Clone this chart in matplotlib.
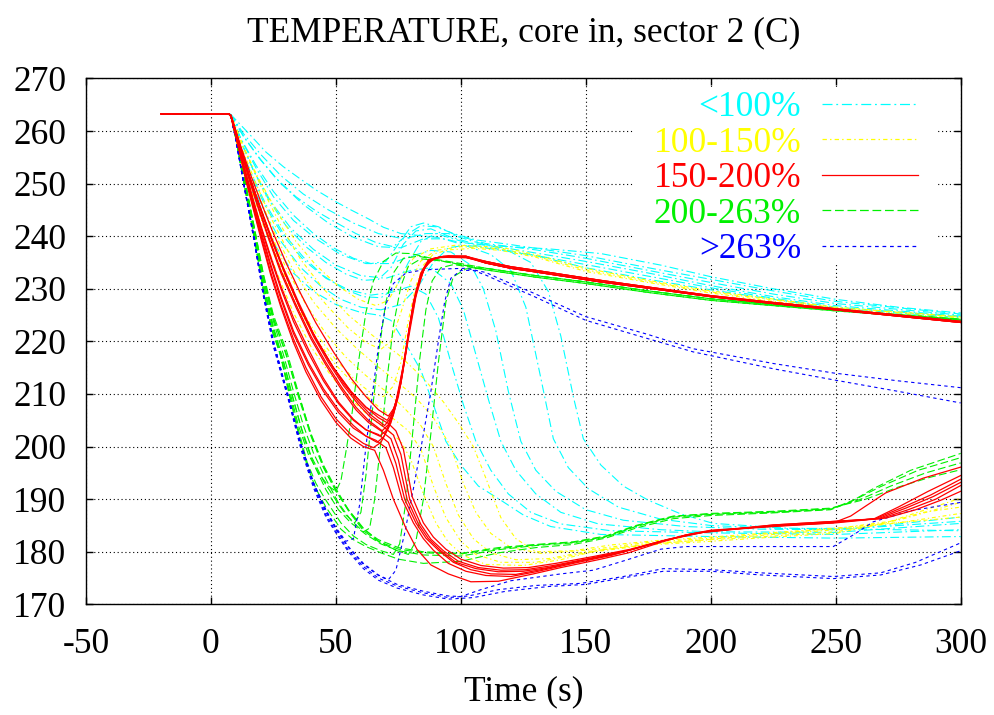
import matplotlib
matplotlib.use("Agg")
import matplotlib.pyplot as plt
from matplotlib.lines import Line2D
from matplotlib.patches import Rectangle

# steady state before the transient, shared by every run
FLAT = [(-20, 263.3), (7, 263.3)]

# <100% : slow cooldown, bump near 85 s, stay high
CYAN_TOP = [
    [(8, 263.1), (15, 259.6), (22, 256), (29, 253.2), (36, 250.8), (42, 248.8), (49, 246.8), (56, 245.0), (63, 243.3), (69, 241.7), (76, 240.5), (82, 240.2), (90, 239.8), (100, 238.8), (116, 238.1), (135, 237.6), (156, 236.7), (180, 234.5), (200, 232.3), (225, 230), (250, 228), (275, 226.5), (300, 225.4)],
    [(8, 263), (13, 259), (19, 255), (26, 251), (34, 247.5), (42, 244.8), (50, 242.6), (58, 240.5), (66, 238.8), (73, 238), (79, 240.5), (84, 242), (90, 241.8), (97, 240.5), (106, 239.3), (120, 238.4), (150, 236.3), (175, 234), (200, 231.8), (225, 229.6), (250, 227.6), (300, 225.2)],
    [(8, 263), (12, 258.5), (18, 253.5), (25, 248.5), (33, 244), (41, 240.5), (49, 237.8), (57, 235.8), (64, 234.8), (70, 235.2), (75, 238.5), (80, 241.8), (85, 242.5), (91, 241.8), (98, 240.2), (110, 238.6), (130, 237.4), (150, 235.8), (175, 233.5), (200, 231.2), (225, 229), (250, 227.2), (300, 225)],
    [(8, 263), (12, 258), (17, 252.5), (23, 247), (30, 242), (38, 238), (46, 235), (54, 232.8), (61, 231.6), (67, 231.8), (72, 234), (77, 238.5), (82, 241), (88, 241.4), (95, 240), (105, 238.6), (120, 237.6), (150, 235.2), (175, 233), (200, 230.6), (225, 228.5), (250, 226.8), (300, 224.8)],
    [(8, 263), (11, 258), (16, 252), (22, 246), (29, 240.5), (37, 236), (45, 232.5), (53, 230), (61, 228.5), (68, 228.3), (74, 230.2), (79, 235), (84, 239), (90, 240.5), (97, 239.5), (106, 238.2), (120, 237.2), (150, 234.6), (175, 232.4), (200, 230.2), (225, 228.2), (250, 226.5), (300, 224.7)],
    [(8, 263), (11, 257.5), (15, 251.5), (21, 245), (28, 239), (36, 234), (44, 230.5), (52, 228), (60, 226.5), (68, 226), (76, 227), (83, 230.5), (89, 235), (95, 237.8), (102, 238.3), (115, 237.4), (130, 236.3), (150, 234), (175, 231.8), (200, 229.8), (225, 228), (250, 226.3), (300, 224.5)],
]

# <100% : runs that collapse to the low branch
CYAN_LOW = [
    [(8, 263), (11, 257), (15, 250.5), (20, 244), (26, 238), (33, 233), (41, 229.5), (50, 227), (60, 225.5), (67, 225), (72, 224), (78, 219.5), (84, 214.5), (89, 208), (94, 201), (100, 196.5), (107, 192.5), (116, 189.8), (125, 187), (136, 184.8), (156, 183.3), (200, 182.9), (250, 182.6), (300, 182.9)],
    [(8, 263), (11, 257.5), (16, 251.5), (22, 245.5), (29, 240), (37, 235.5), (46, 232), (55, 229.8), (64, 228.8), (72, 229.3), (80, 230.5), (86, 229), (91, 224.5), (96, 216), (101, 208), (106, 201), (112, 195.5), (119, 191), (128, 187.5), (140, 185.3), (160, 184), (200, 183.6), (250, 183.3), (300, 184.2)],
    [(8, 263), (12, 258), (17, 252.5), (24, 246.5), (32, 241.5), (41, 237.5), (50, 234.5), (60, 232.5), (70, 232), (80, 233.5), (88, 234), (96, 231), (101, 226), (106, 217.5), (111, 209), (116, 201), (122, 195.5), (130, 191), (140, 187.5), (155, 185.3), (180, 184.2), (200, 183.8), (250, 183.7), (300, 185.4)],
    [(8, 263), (12, 258.5), (18, 253), (25, 247.5), (33, 243), (42, 239.5), (52, 236.5), (62, 234.8), (72, 234.8), (80, 236.2), (88, 237.3), (96, 237), (104, 234.5), (109, 230), (114, 222), (119, 210.5), (124, 201), (130, 195.5), (138, 191.5), (150, 188), (165, 186), (190, 184.8), (220, 184.3), (250, 184.2), (300, 185.8)],
    [(8, 263.1), (13, 259), (20, 254.5), (28, 250), (37, 246), (47, 242.5), (57, 239.8), (67, 238), (76, 237.8), (85, 239.5), (93, 239.5), (102, 238.2), (112, 236.5), (120, 233.5), (126, 226.5), (132, 213), (137, 201.5), (143, 196), (151, 192), (163, 188.5), (180, 186.2), (200, 185), (230, 184.4), (260, 184.5), (300, 186.6)],
    [(8, 263.1), (13, 259.5), (20, 255.5), (28, 251.5), (37, 248), (47, 245), (57, 242.5), (67, 240.5), (77, 239.5), (86, 240.5), (95, 240.5), (105, 239), (118, 237.5), (128, 235), (135, 229.5), (140, 221), (145, 209.5), (149, 201.5), (156, 196.5), (165, 192.5), (175, 189.8), (188, 187.2), (201, 185.4), (230, 184.5), (260, 184.3), (300, 184)],
]

# 100-150%
YELLOW = [
    [(8, 262.9), (12, 255.5), (17, 248), (22, 241.5), (28, 234), (35, 227), (42, 221.5), (50, 216.5), (58, 212.5), (64, 210.2), (69, 209.5), (73, 211.5), (76, 216), (79, 224), (82, 230.5), (85, 234.5), (89, 236.6), (95, 237.4), (105, 237.7), (116, 237.3), (130, 236), (150, 233.3), (175, 231.2), (200, 229.2), (225, 227.6), (250, 226.2), (275, 225.2), (300, 224.4)],
    [(8, 263), (13, 256), (18, 250), (24, 243.5), (31, 237), (39, 231), (47, 226.5), (55, 222.5), (62, 219.8), (68, 218.5), (72, 220), (76, 225.5), (80, 231.5), (84, 235.3), (90, 237.3), (100, 238), (116, 237.6), (130, 236.2), (150, 233.6), (175, 231.4), (200, 229.4), (250, 226.4), (300, 224.6)],
    [(8, 263), (13, 257), (19, 251), (26, 245), (34, 239), (42, 234.5), (51, 230.5), (59, 228), (66, 226.8), (71, 227.8), (76, 232), (81, 235.8), (88, 237.6), (98, 238.3), (116, 237.9), (130, 236.5), (150, 233.9), (175, 231.6), (200, 229.6), (250, 226.5), (300, 224.7)],
    [(8, 262.9), (11, 256), (15, 249), (20, 241.5), (26, 233.5), (33, 225.5), (40, 219), (48, 213.5), (56, 209), (64, 205.5), (71, 203), (76, 201), (80, 197.5), (85, 191), (90, 185.5), (95, 181.8), (101, 179.3), (110, 177.6), (125, 177.4), (140, 178.5), (155, 180.3), (175, 181.5), (200, 182.3), (225, 183), (250, 183.8), (270, 185.5), (285, 187.5), (300, 188.5)],
    [(8, 262.9), (12, 255.5), (16, 249), (21, 242), (27, 234.5), (34, 227), (42, 220.5), (50, 215.5), (58, 211.5), (66, 208), (73, 205.3), (79, 203), (84, 199.5), (89, 192.5), (94, 186.5), (100, 182), (106, 179.5), (116, 178), (130, 178), (150, 179.8), (175, 181.3), (200, 182), (225, 182.8), (250, 183.5), (270, 185.5), (300, 190.2)],
    [(8, 263), (12, 256), (17, 249), (23, 241.5), (30, 234), (38, 227), (46, 221.5), (54, 217), (62, 213.5), (70, 210.5), (77, 207.5), (84, 204), (89, 200), (94, 193), (99, 187), (105, 182.5), (112, 179.8), (122, 178.5), (135, 178.7), (150, 180), (175, 181.4), (200, 182.4), (250, 184.2), (275, 185.5), (300, 187.3)],
    [(8, 263), (12, 256.5), (18, 249), (25, 241), (33, 233.5), (41, 227.5), (50, 222.5), (58, 218.8), (66, 215.5), (74, 212.5), (82, 209.3), (89, 205.5), (96, 200), (101, 193), (106, 187.5), (112, 183.5), (120, 180.8), (132, 179.7), (150, 180.3), (175, 181.8), (200, 182.6), (250, 184.4), (275, 186), (300, 189.4)],
    [(8, 263), (13, 257), (20, 249.5), (28, 242), (36, 235.5), (45, 230), (55, 225), (65, 221), (75, 217.5), (85, 213), (93, 208.5), (99, 204.5), (105, 200), (110, 194), (116, 186.5), (122, 182.5), (130, 180), (145, 180.2), (160, 181.3), (180, 182.2), (200, 182.8), (250, 184.5), (300, 186.6)],
]

# 150-200% : runs that recover (V near 200-205 C), common late tail
RED_TOP_HEADS = [
    [(8, 262.8), (11, 257), (14, 251), (17, 245.5), (20, 240), (24, 233), (28, 227), (33, 220.5), (38, 215), (44, 209.5), (50, 205.3), (56, 202.3), (61, 200.6), (65, 199.8), (68, 200.8), (71, 203.5), (74, 207.8), (77.5, 216.5), (81, 227.5), (84, 233), (87, 235.5), (92, 236.1), (102, 236)],
    [(8, 262.8), (11, 257.3), (14, 251.5), (17, 246), (20, 241), (24, 234.5), (28, 228.5), (33, 222), (39, 216), (45, 211), (51, 207), (57, 204), (62, 202), (66.5, 200.8), (69, 201.8), (72, 204.5), (75, 209.5), (78, 218), (81, 227.3), (84, 232.8), (87, 235.4), (92, 236), (102, 235.9)],
    [(8, 262.8), (11, 257.5), (14, 252), (17, 246.8), (20, 242), (24, 236), (28, 230.5), (33, 224.5), (39, 218.5), (45, 213), (51, 208.5), (57, 205.2), (62, 203.2), (67.5, 202), (70, 203), (73, 206), (76, 212), (79, 221.5), (82, 229.5), (85, 233.8), (88, 235.6), (93, 236.1), (102, 236)],
    [(8, 262.9), (11, 258), (15, 251.5), (19, 245.5), (23, 240), (28, 233.5), (34, 227), (40, 221), (46, 216), (52, 211.5), (58, 207.5), (63, 205), (68.5, 203), (71, 204.2), (74, 208.5), (77, 215.5), (80, 224.5), (83, 231), (86, 234.5), (90, 235.9), (102, 236.1)],
    [(8, 262.9), (11, 258.3), (15, 252), (19, 246.5), (24, 240), (29, 234), (35, 227.5), (41, 221.5), (47, 216.5), (53, 212), (59, 208.5), (64, 206), (69.5, 204), (72, 205.5), (75, 210), (78, 218.5), (81, 227), (84, 232.5), (87, 235.2), (91, 236), (102, 236.2)],
    [(8, 263), (12, 256.5), (16, 250.5), (20, 245), (25, 238.5), (30, 232.5), (36, 226), (42, 220.5), (49, 215), (56, 210.5), (62, 207.5), (67, 206), (70.5, 205), (73, 206.8), (76, 212), (79, 220.5), (82, 228.5), (85, 233.5), (88, 235.5), (93, 236.2), (102, 236.2)],
    [(8, 263), (12, 257), (16, 251.5), (20, 246.5), (25, 240.5), (30, 235), (36, 229), (42, 223.5), (49, 218), (56, 213), (62, 209.5), (67, 207), (71, 205.8), (73.5, 207.5), (76.5, 213.5), (79.5, 222.5), (82.5, 230), (85.5, 234), (89, 235.8), (95, 236.3), (102, 236.2)],
]
RED_TAIL_A = [(110, 234.9), (120, 233.9), (130, 233.2), (156, 231.3), (180, 229.8), (200, 228.5), (225, 227.2), (250, 226), (275, 224.8), (300, 223.6)]
RED_TAIL_B = [(110, 235.2), (120, 234.2), (130, 233.5), (156, 231.6), (180, 230.0), (200, 228.7), (225, 227.4), (250, 226.2), (275, 225.0), (300, 223.8)]

# 150-200% : runs that fall through to the low branch
RED_LOW = [
    [(8, 262.8), (11, 256.8), (14, 250.5), (17, 245), (20, 239.5), (24, 232.5), (28, 226.5), (33, 219.8), (38, 214.2), (44, 208.8), (50, 204.6), (56, 201.6), (61, 200), (65.5, 199.3), (69, 195.5), (73, 190), (78, 184.5), (82.4, 180.5), (88, 177.5), (95, 175.8), (104, 174.3), (115, 174.4), (129, 175.8), (140, 177), (156, 178.6), (167, 179.8), (180, 181.8), (190, 183.2), (200, 184), (225, 184.8), (249, 185.5), (256, 186.8), (262, 188.7), (270, 191.2), (285, 194), (300, 196.1)],
    [(8, 262.8), (11, 257.2), (14, 251.2), (17, 246), (20, 240.5), (24, 234), (28, 228), (33, 221.5), (39, 215.5), (45, 210.5), (51, 206.5), (57, 203.5), (62, 202), (66, 201.2), (70, 199.8), (73, 196), (76.5, 190), (81, 185.5), (85, 182.5), (89, 180.3), (95, 177.8), (102, 176.3), (110, 175.5), (120, 175.3), (130, 176.2), (145, 177.8), (160, 179.3), (175, 181.3), (190, 183.2), (200, 184), (225, 184.9), (250, 185.5), (265, 186.2), (275, 188.5), (287, 191.5), (300, 194.5)],
    [(8, 262.8), (11, 257.4), (14, 251.8), (17, 246.6), (20, 241.6), (24, 235.6), (28, 230), (33, 223.8), (39, 217.8), (45, 212.5), (51, 208.2), (57, 205), (62, 203.2), (67, 202.3), (71, 200.8), (74, 196.8), (77.5, 190), (82, 185.5), (86, 182.6), (91, 180.3), (97, 178), (104, 176.6), (112, 175.8), (122, 175.7), (132, 176.6), (147, 178.2), (162, 179.6), (177, 181.6), (192, 183.4), (200, 184.1), (225, 184.9), (250, 185.6), (266, 186.3), (277, 188.5), (288, 190.8), (300, 193.8)],
    [(8, 262.9), (11, 257.8), (15, 251.2), (19, 245.2), (23, 239.6), (28, 233), (34, 226.5), (40, 220.5), (46, 215.5), (52, 211), (58, 207), (63, 204.6), (68, 203), (72, 201.5), (75, 197.5), (78.5, 190), (83, 185.3), (87, 182.5), (92, 180.2), (98, 178), (106, 176.8), (115, 176.2), (125, 176.3), (135, 177), (150, 178.5), (165, 180), (180, 182), (195, 183.6), (225, 185), (250, 185.7), (267, 186.3), (278, 188.3), (289, 190.5), (300, 193.2)],
    [(8, 262.9), (11, 258.2), (15, 251.8), (19, 246.2), (24, 239.6), (29, 233.6), (35, 227), (41, 221), (47, 216), (53, 211.6), (59, 208), (64, 205.5), (69, 203.8), (73, 202.2), (76, 198.5), (79.5, 190), (84, 185.2), (88, 182.4), (93, 180.2), (99, 178.2), (107, 177), (116, 176.5), (126, 176.6), (137, 177.4), (152, 178.8), (167, 180.3), (182, 182.2), (197, 183.7), (225, 185.1), (250, 185.8), (268, 186.3), (279, 188), (290, 190), (300, 192.6)],
    [(8, 263), (12, 256.5), (16, 250.5), (20, 245), (25, 238.5), (30, 232.5), (36, 226), (42, 220.5), (49, 215), (56, 210.5), (62, 207.5), (67, 205.5), (71, 204.4), (74, 203), (77, 199.5), (80.5, 190.5), (85, 185.5), (89, 182.8), (94, 180.5), (100, 178.6), (108, 177.4), (117, 176.9), (127, 177), (138, 177.8), (153, 179.1), (168, 180.5), (183, 182.4), (198, 183.8), (225, 185.1), (250, 185.8), (270, 186.4), (282, 188), (292, 189.8), (300, 191.5)],
]

# 200-263% : early and late recoveries, common late tail
GREEN_TOP_HEADS = [
    [(8, 262.8), (10, 258.5), (13, 250.8), (17, 241), (21, 230.5), (25, 222), (28, 217), (31, 211.5), (35, 204), (39, 198.5), (43, 195), (47, 192.5), (50, 191.5), (52, 193.5), (54, 199), (56.5, 206.5), (59, 216), (62, 225.5), (65, 231.5), (69, 235.2), (74, 236.8), (80, 236.7), (90, 235.6), (100, 234.8)],
    [(8, 262.8), (10, 258.7), (13, 251.3), (17, 241.5), (21, 231), (25, 222.8), (28.5, 217), (32, 210.5), (36, 203.8), (40, 198.3), (45, 193.5), (50, 189.8), (54, 187), (57.5, 185.5), (60, 187.5), (62, 194.5), (64.4, 206), (67, 217.5), (70, 227.5), (73, 233), (77, 235.8), (83, 236.2), (90, 235.5), (100, 234.6)],
    [(8, 262.8), (10, 258.8), (13, 251.8), (17, 242), (21, 231.8), (25, 223.8), (29, 217.5), (33, 210.5), (37, 204), (41, 198.8), (46, 193.8), (51, 189.3), (56, 186), (61, 183.8), (63.5, 184.5), (65.5, 190), (68, 201), (70.5, 213), (73, 223), (76, 230.5), (79, 234.3), (84, 235.7), (92, 235.3), (100, 234.6)],
    [(8, 262.8), (10, 258.5), (13, 250.6), (17, 240.6), (21, 229.8), (24.5, 222), (27.7, 217.5), (31, 210.8), (35, 203.2), (38.5, 197), (42, 193), (46, 189.8), (52, 185.5), (57, 183), (62, 181.4), (68, 180.2), (73, 179.5), (75.5, 181.5), (78, 189.5), (81, 204), (83.5, 216.5), (86, 226), (88.5, 231.5), (92, 234), (97, 234.6), (100, 234.4)],
    [(8, 262.8), (10, 259), (13, 252), (17, 242.5), (21, 232.5), (25, 224.5), (30, 217.5), (35, 210), (40, 202.5), (45, 196.5), (50, 192), (55, 188), (61, 184.5), (67, 182), (74, 180.3), (79, 179.5), (82, 182), (85, 190), (88, 202.5), (91, 216), (94, 227.5), (97, 232.3), (102, 233.8)],
]
GREEN_TAIL_A = [(110, 233.9), (130, 232.5), (150, 231.3), (175, 229.6), (200, 228.1), (225, 227), (250, 226), (275, 225.1), (300, 224.2)]
GREEN_TAIL_B = [(110, 233.6), (130, 232.2), (150, 231), (175, 229.3), (200, 227.8), (225, 226.8), (250, 225.8), (275, 224.9), (300, 224)]

GREEN_LOW = [
    [(8, 262.8), (10, 258.5), (13, 250.5), (17, 240.5), (21, 229.5), (24.5, 222), (27.7, 218), (31, 210.5), (35, 202.5), (38.4, 196.5), (42, 192), (46, 188.5), (52, 184.3), (57, 182.3), (62, 181), (68, 179.8), (75, 178.6), (85, 177.8), (100, 178.2), (115, 179.8), (130, 180.8), (145, 181.4), (158, 182.6), (170, 184.5), (185, 186.3), (200, 186.9), (225, 187.4), (248, 188), (256, 189.5), (265, 192), (280, 195.5), (300, 198.7)],
    [(8, 262.8), (10, 258.7), (13, 251), (17, 241.2), (21, 230.8), (25, 222.3), (29, 216.3), (33, 209), (37, 202), (41, 196.8), (46, 191.8), (51, 188), (56, 185.5), (62, 183.3), (68, 181.5), (75, 180.2), (85, 179.4), (100, 179.2), (115, 180.4), (130, 181.2), (145, 181.7), (158, 182.8), (170, 184.8), (185, 186.6), (200, 187.1), (225, 187.5), (248, 188.1), (258, 190), (268, 192.4), (283, 195.5), (300, 197.9)],
    [(8, 262.8), (10, 258.9), (13, 251.6), (17, 242), (21, 232), (25, 224.2), (30, 217.8), (35, 209.5), (40, 202), (45, 196), (50, 191.5), (55, 188), (61, 184.3), (67, 182.3), (75, 180.8), (85, 180), (100, 179.7), (115, 180.8), (130, 181.4), (145, 181.9), (158, 183), (170, 185), (185, 186.8), (200, 187.2), (225, 187.6), (248, 188.2), (260, 190), (272, 192.5), (286, 195), (300, 196.9)],
    [(8, 262.8), (10, 259), (13, 252), (17, 242.5), (21, 232.8), (25, 225), (30.4, 218), (35, 210.2), (40, 202.3), (45, 196.2), (50, 191.7), (55, 187.8), (61, 184), (67, 182), (75, 180.5), (85, 179.8), (100, 179.6), (115, 180.6), (130, 181.3), (145, 181.8), (158, 182.9), (170, 184.9), (185, 186.7), (200, 187.3), (225, 187.7), (248, 188.3), (262, 190), (275, 192.3), (288, 194.2), (300, 195.6)],
]

# >263%
BLUE = [
    [(8, 262.8), (10, 258.4), (13, 250.4), (17, 240.4), (21, 229.3), (25, 220), (30, 211), (35, 202), (41, 193.2), (46, 188), (50, 184.6), (54, 182), (57, 182.5), (59.5, 189), (62, 200), (64.5, 209.5), (67, 219), (70, 227), (73, 231), (78, 233), (85, 233.6), (95, 233.8), (102, 233.9), (110, 233.1), (116, 231.8), (129, 229.2), (150, 224.7), (175, 221.3), (193, 218.6), (225, 215.8), (249, 214), (275, 212.5), (300, 211.2)],
    [(8, 262.8), (10, 258.4), (13, 250.4), (17, 240.4), (21, 229.3), (25, 220), (30, 211), (35, 202), (41, 193), (46, 187.8), (50.5, 184), (55, 181), (61, 177.8), (67, 175.6), (71, 174.7), (74, 176.5), (77.5, 183.5), (81, 192), (84.5, 201), (88, 210.5), (91, 220), (93.5, 227.5), (96, 232), (100, 233.5), (105, 233.5), (110, 232.6), (116, 231.3), (129, 228.6), (150, 224), (175, 220.5), (193, 218), (225, 214.8), (249, 212.7), (275, 210.5), (300, 208.3)],
    [(8, 262.8), (10, 258.3), (13, 250.3), (17, 240.2), (21, 229), (25, 219.7), (30.5, 210.5), (36, 200.5), (41, 193), (46, 187.5), (50.5, 184), (55, 180.8), (61, 177.6), (67, 175.5), (74.5, 173.8), (85, 172.5), (95, 171.6), (100, 171.5), (108, 172.8), (120, 174.5), (140, 175.8), (153, 176.5), (166, 178.4), (180, 180.5), (190, 181), (220, 181), (249, 181), (257, 183.2), (265, 185.7), (280, 187.8), (300, 189.4)],
    [(8, 262.8), (10, 258.3), (13, 250.2), (17, 240), (21, 228.8), (25, 219.3), (30.5, 210), (36, 200), (41, 192.6), (46, 187), (50.5, 183.5), (55, 180.3), (61, 177.2), (67, 175), (74.5, 173.5), (85, 172.2), (95, 171.3), (103, 171.6), (115, 172.8), (130, 173.6), (148, 174), (165, 175.3), (181, 176.8), (200, 176.6), (220, 176), (249, 175.3), (268, 176), (282, 178), (300, 181.7)],
    [(8, 262.8), (10, 258.2), (13, 250.1), (17, 239.8), (21, 228.5), (25, 219), (30.5, 209.7), (36, 199.5), (41, 192.2), (46, 186.6), (50.5, 183.2), (55, 180), (61, 176.8), (67, 174.6), (74.5, 173.1), (85, 171.8), (95, 171), (105, 171.3), (118, 172.5), (135, 173.4), (150, 173.8), (167, 175.2), (181, 176.3), (200, 176.3), (220, 175.6), (249, 174.9), (268, 175.6), (284, 177.5), (300, 180.2)],
]

LABELS = ["<100%", "100-150%", "150-200%", "200-263%", ">263%"]
COLORS = ["#00ffff", "#ffff00", "#ff0000", "#00f000", "#0000ff"]
DASHES = [(0, (8, 3, 1.5, 3)), (0, (3.5, 2.5, 1.2, 2.5)), "-", (0, (7, 3)), (0, (3, 3))]

X_TICKS = [-50, 0, 50, 100, 150, 200, 250, 300]
Y_TICKS = [170, 180, 190, 200, 210, 220, 230, 240, 250, 260, 270]


def runs_for(group):
    if group == 0:
        return CYAN_TOP + CYAN_LOW
    if group == 1:
        return YELLOW
    if group == 2:
        tops = [h + (RED_TAIL_A if i % 2 == 0 else RED_TAIL_B)
                for i, h in enumerate(RED_TOP_HEADS)]
        return tops + RED_LOW
    if group == 3:
        tops = [h + (GREEN_TAIL_A if i % 2 == 0 else GREEN_TAIL_B)
                for i, h in enumerate(GREEN_TOP_HEADS)]
        return tops + GREEN_LOW
    return BLUE


FS = 25.5
plt.rcParams.update({
    "font.family": ["Liberation Serif", "DejaVu Serif"],
    "font.size": FS,
    "axes.unicode_minus": False,
})

fig = plt.figure(figsize=(9.95, 7.15), dpi=100)
ax = fig.add_axes([86 / 995, 1 - 604.4 / 715, 874.7 / 995, 526 / 715])

# draw order: cyan, yellow, green, blue, red on top
for g in [0, 1, 3, 4, 2]:
    lw = 0.9 if g == 2 else 0.8
    for run in runs_for(g):
        pts = FLAT + run
        ax.plot([p[0] for p in pts], [p[1] for p in pts],
                color=COLORS[g], linestyle=DASHES[g], linewidth=lw, zorder=2)

ax.set_xlim(-50, 300)
ax.set_ylim(170, 270)
ax.set_xticks(X_TICKS)
ax.set_yticks(Y_TICKS)
ax.grid(True, color="black", linestyle=(0, (1, 2.5)), linewidth=0.8)
ax.set_axisbelow(True)
ax.tick_params(direction="in", length=5, width=1, top=True, right=True,
               labelsize=FS)
ax.tick_params(axis="x", pad=17)
ax.tick_params(axis="y", pad=14)
for s in ax.spines.values():
    s.set_linewidth(1.0)
    s.set_zorder(6)

ax.set_title("TEMPERATURE, core in, sector 2 (C)", fontsize=FS, pad=27)
ax.set_xlabel("Time (s)", fontsize=FS, labelpad=10)

# gnuplot clears the key area, so the grid stops behind it
ax.add_patch(Rectangle((0.6254, 0.6471), 0.3487, 0.3365, transform=ax.transAxes,
                       facecolor="white", edgecolor="none", zorder=1))

handles = [Line2D([], [], color=COLORS[g], linestyle=DASHES[g], linewidth=0.9)
           for g in range(5)]
leg = ax.legend(handles, LABELS, loc="upper right", markerfirst=False,
                bbox_to_anchor=(0.9512, 0.9755), borderaxespad=0, borderpad=0,
                frameon=False, handlelength=2.7, handletextpad=0.6,
                labelspacing=0.07, labelcolor="linecolor", fontsize=FS)
leg.set_zorder(5)

fig.savefig("out.png", dpi=100)
